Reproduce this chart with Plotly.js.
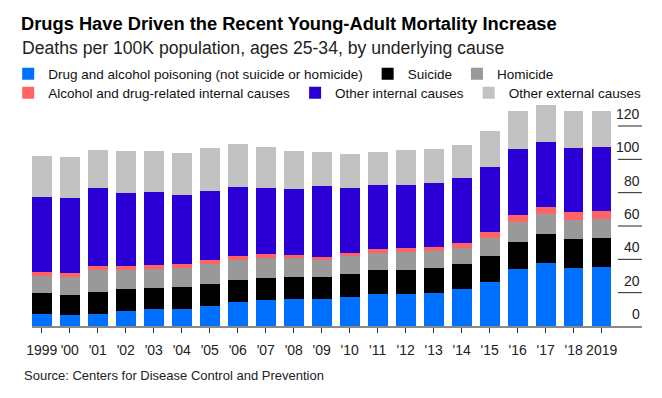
<!DOCTYPE html>
<html>
<head>
<meta charset="utf-8">
<script src="https://cdn.plot.ly/plotly-3.0.1.min.js"></script>
<style>html,body{margin:0;padding:0;background:#fff;}#chart{width:662px;height:398px;}</style>
</head>
<body>
<div id="chart"></div>
<script>
const years = [1999,2000,2001,2002,2003,2004,2005,2006,2007,2008,2009,2010,2011,2012,2013,2014,2015,2016,2017,2018,2019];
const yearLabels = ["1999","'00","'01","'02","'03","'04","'05","'06","'07","'08","'09","'10","'11","'12","'13","'14","'15","'16","'17","'18","2019"];
const drugPoisoning = [7.0,6.4,7.0,8.8,10.0,10.0,11.8,14.2,15.4,16.0,16.0,17.2,19.0,19.0,19.6,22.0,26.2,34.0,37.6,34.6,35.2];
const suicide = [12.6,12.0,13.2,13.2,12.6,13.2,13.2,13.2,13.2,13.2,13.2,13.8,14.4,14.4,15.0,15.0,15.6,16.2,17.4,17.4,17.4];
const homicide = [10.2,10.8,13.2,11.4,11.4,11.4,12.0,12.0,12.0,11.4,10.2,10.8,10.2,10.8,10.2,9.6,10.8,12.0,12.0,11.4,11.4];
const alcDrugInternal = [2.4,2.4,2.4,2.4,2.4,2.4,2.4,2.4,2.4,1.8,1.8,1.8,2.4,2.4,2.4,3.0,3.6,4.2,4.2,4.8,4.8];
const otherInternal = [45.0,45.0,46.8,43.8,43.8,41.4,41.4,41.4,39.6,39.6,42.6,39.0,38.4,37.8,38.4,39.0,39.0,39.6,39.0,38.4,38.4];
const otherExternal = [24.6,24.6,22.8,25.2,24.6,25.2,25.8,25.8,24.6,22.8,20.4,20.4,19.8,21.0,20.4,19.8,21.6,22.8,22.2,22.2,21.6];
const seriesNames = ["Drug and alcohol poisoning (not suicide or homicide)","Suicide","Homicide","Alcohol and drug-related internal causes","Other internal causes","Other external causes"];
const seriesColors = ["#0070ff","#000000","#999999","#ff6464","#2a00d6","#c2c2c2"];
const legendRow = ["legend","legend","legend","legend2","legend2","legend2"];
const yTicks = [0,20,40,60,80,100,120];

const seriesValues = [drugPoisoning, suicide, homicide, alcDrugInternal, otherInternal, otherExternal];
const traces = seriesValues.map((vals, i) => ({
  type: 'bar', x: years, y: vals, name: seriesNames[i], legend: legendRow[i],
  marker: {color: seriesColors[i], line: {width: 0}},
  hoverinfo: 'skip'
}));

const font = "'Liberation Sans', Arial, sans-serif";
// plot area: top 100px, bottom 326px (height 226)
const py = p => (326 - p) / 226;
const shapes = yTicks.filter(v => v > 0).map(v => ({
  type: 'line', xref: 'x', yref: 'y', x0: 2019.58, x1: 2020.44, y0: v, y1: v,
  line: {color: '#222', width: 1}
}));
const annotations = yTicks.map(v => ({
  xref: 'x', yref: 'y', x: 2020.44, y: v, text: String(v), showarrow: false,
  xanchor: 'right', yanchor: 'bottom', yshift: 2,
  font: {family: font, size: 14, color: '#222'}
}));
annotations.push({
  xref: 'paper', yref: 'paper', x: -12/610, y: py(48), xanchor: 'left', yanchor: 'middle',
  text: 'Deaths per 100K population, ages 25-34, by underlying cause', showarrow: false,
  font: {family: font, size: 17.6, color: '#222'}
});
annotations.push({
  xref: 'paper', yref: 'paper', x: -10/610, y: py(375), xanchor: 'left', yanchor: 'middle',
  text: 'Source: Centers for Disease Control and Prevention', showarrow: false,
  font: {family: font, size: 13, color: '#222'}
});

const legendBase = {orientation: 'h', x: -0.039, xanchor: 'left', yanchor: 'middle',
  traceorder: 'normal', font: {family: font, size: 13.5, color: '#111'},
  itemwidth: 30, itemclick: false, bgcolor: 'rgba(0,0,0,0)'};

const layout = {
  width: 662, height: 398,
  margin: {l: 32, r: 20, t: 100, b: 72, autoexpand: false},
  paper_bgcolor: '#fff', plot_bgcolor: '#fff',
  barmode: 'stack', bargap: 0.3,
  showlegend: true,
  legend: Object.assign({}, legendBase, {y: py(74)}),
  legend2: Object.assign({}, legendBase, {y: py(93)}),
  title: {text: '<b>Drugs Have Driven the Recent Young-Adult Mortality Increase</b>',
    xref: 'container', yref: 'container', x: 21/662, xanchor: 'left', y: 1 - 24/398, yanchor: 'middle',
    font: {family: font, size: 18.3, color: '#000'}},
  xaxis: {range: [1998.65, 2020.44], tickvals: years, ticktext: yearLabels,
    ticks: 'outside', ticklen: 5, tickcolor: '#333', tickwidth: 1, ticklabelstandoff: 6,
    showline: true, linecolor: '#888', linewidth: 1.5, showgrid: false, zeroline: false,
    tickfont: {family: font, size: 14, color: '#222'}, fixedrange: true},
  yaxis: {range: [0, 135.6], showgrid: false, zeroline: false, showticklabels: false, showline: false, fixedrange: true},
  shapes: shapes,
  annotations: annotations
};
Plotly.newPlot('chart', traces, layout, {displayModeBar: false, staticPlot: true});
</script>
</body>
</html>
